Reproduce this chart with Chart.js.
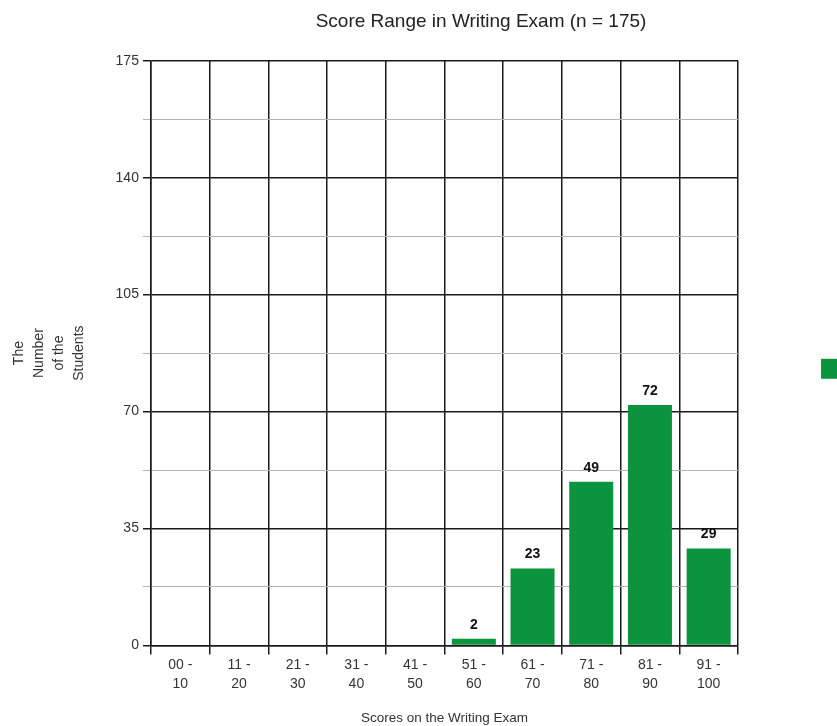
<!DOCTYPE html>
<html>
<head>
<meta charset="utf-8">
<script src="https://cdn.jsdelivr.net/npm/chart.js@4/dist/chart.umd.min.js"></script>
<style>
  html, body { margin: 0; padding: 0; background: #fff; overflow: hidden; }
  #wrap { width: 837px; height: 726px; overflow: hidden; position: relative; }
  canvas { display: block; }
</style>
</head>
<body>
<div id="wrap"><canvas id="chart" width="962" height="726"></canvas></div>
<script>
// Score bands (two-line labels) and the number of students in each band
const scoreBands = [
  ['00 -', '10'], ['11 -', '20'], ['21 -', '30'], ['31 -', '40'], ['41 -', '50'],
  ['51 -', '60'], ['61 -', '70'], ['71 -', '80'], ['81 -', '90'], ['91 -', '100']
];
const studentCounts = [0, 0, 0, 0, 0, 2, 23, 49, 72, 29];
const yMax = 175;
const majorStep = 35;
const minorStep = 17.5;

const chartTitle = 'Score Range in Writing Exam (n = 175)';
const xTitle = 'Scores on the Writing Exam';
const yTitle = ['The', 'Number', 'of the', 'Students'];

const barGreen = '#0c933d';
const FONT = '"Liberation Sans", Arial, sans-serif';

// Value printed above each non-empty bar
const valueLabels = {
  id: 'valueLabels',
  afterDatasetsDraw(chart) {
    const ctx = chart.ctx;
    const meta = chart.getDatasetMeta(0);
    ctx.save();
    ctx.font = 'bold 14px ' + FONT;
    ctx.fillStyle = '#111';
    ctx.textAlign = 'center';
    ctx.textBaseline = 'bottom';
    meta.data.forEach((bar, i) => {
      const v = chart.data.datasets[0].data[i];
      if (v > 0) ctx.fillText(String(v), bar.x, bar.y - 7);
    });
    ctx.restore();
  }
};

// Series key swatch to the right of the plot
const seriesSwatch = {
  id: 'seriesSwatch',
  afterDraw(chart) {
    const a = chart.chartArea;
    const ctx = chart.ctx;
    ctx.save();
    ctx.fillStyle = chart.data.datasets[0].backgroundColor;
    ctx.fillRect(a.right + 83, a.top + 298, 20, 20);
    ctx.restore();
  }
};

new Chart(document.getElementById('chart'), {
  type: 'bar',
  data: {
    labels: scoreBands,
    datasets: [{
      label: 'Students',
      data: studentCounts,
      backgroundColor: barGreen,
      borderWidth: 0,
      barPercentage: 0.75,
      categoryPercentage: 1
    }]
  },
  options: {
    responsive: false,
    animation: false,
    layout: { padding: 0 },
    plugins: {
      legend: { display: false },
      tooltip: { enabled: false },
      title: {
        display: true,
        text: chartTitle,
        color: '#222',
        font: { family: FONT, size: 19, weight: 'normal', lineHeight: 1.2 },
        padding: { top: 10, bottom: 28 }
      }
    },
    scales: {
      x: {
        offset: true,
        grid: {
          offset: true,
          color: '#1a1a1a',
          lineWidth: 1.5,
          tickLength: 9,
          drawOnChartArea: true
        },
        border: { display: true, color: '#1a1a1a', width: 1.5 },
        ticks: {
          color: '#333',
          font: { family: FONT, size: 14, lineHeight: 1.3 },
          padding: 2,
          maxRotation: 0,
          autoSkip: false
        },
        title: {
          display: true,
          text: xTitle,
          color: '#333',
          font: { family: FONT, size: 13.5 },
          padding: { top: 15, bottom: 0 }
        }
      },
      y: {
        min: 0,
        max: yMax,
        grid: {
          color: c => (c.tick && c.tick.value % majorStep === 0) ? '#1a1a1a' : '#b4b4b4',
          lineWidth: c => (c.tick && c.tick.value % majorStep === 0) ? 1.5 : 1,
          tickLength: 8
        },
        border: { display: true, color: '#1a1a1a', width: 1.5 },
        ticks: {
          stepSize: minorStep,
          color: '#333',
          font: { family: FONT, size: 14 },
          padding: 4,
          callback: v => (v % majorStep === 0 ? v : '')
        },
        title: {
          display: true,
          text: yTitle,
          color: '#333',
          font: { family: FONT, size: 14, lineHeight: 1.43 },
          padding: { top: 9, bottom: 22.5 }
        }
      },
      // empty right-hand gutter that holds the series swatch
      gutter: {
        type: 'linear',
        position: 'right',
        display: true,
        grid: { display: false },
        border: { display: false },
        ticks: { display: false },
        afterFit(scale) { scale.width = 224; }
      }
    }
  },
  plugins: [valueLabels, seriesSwatch]
});
</script>
</body>
</html>
